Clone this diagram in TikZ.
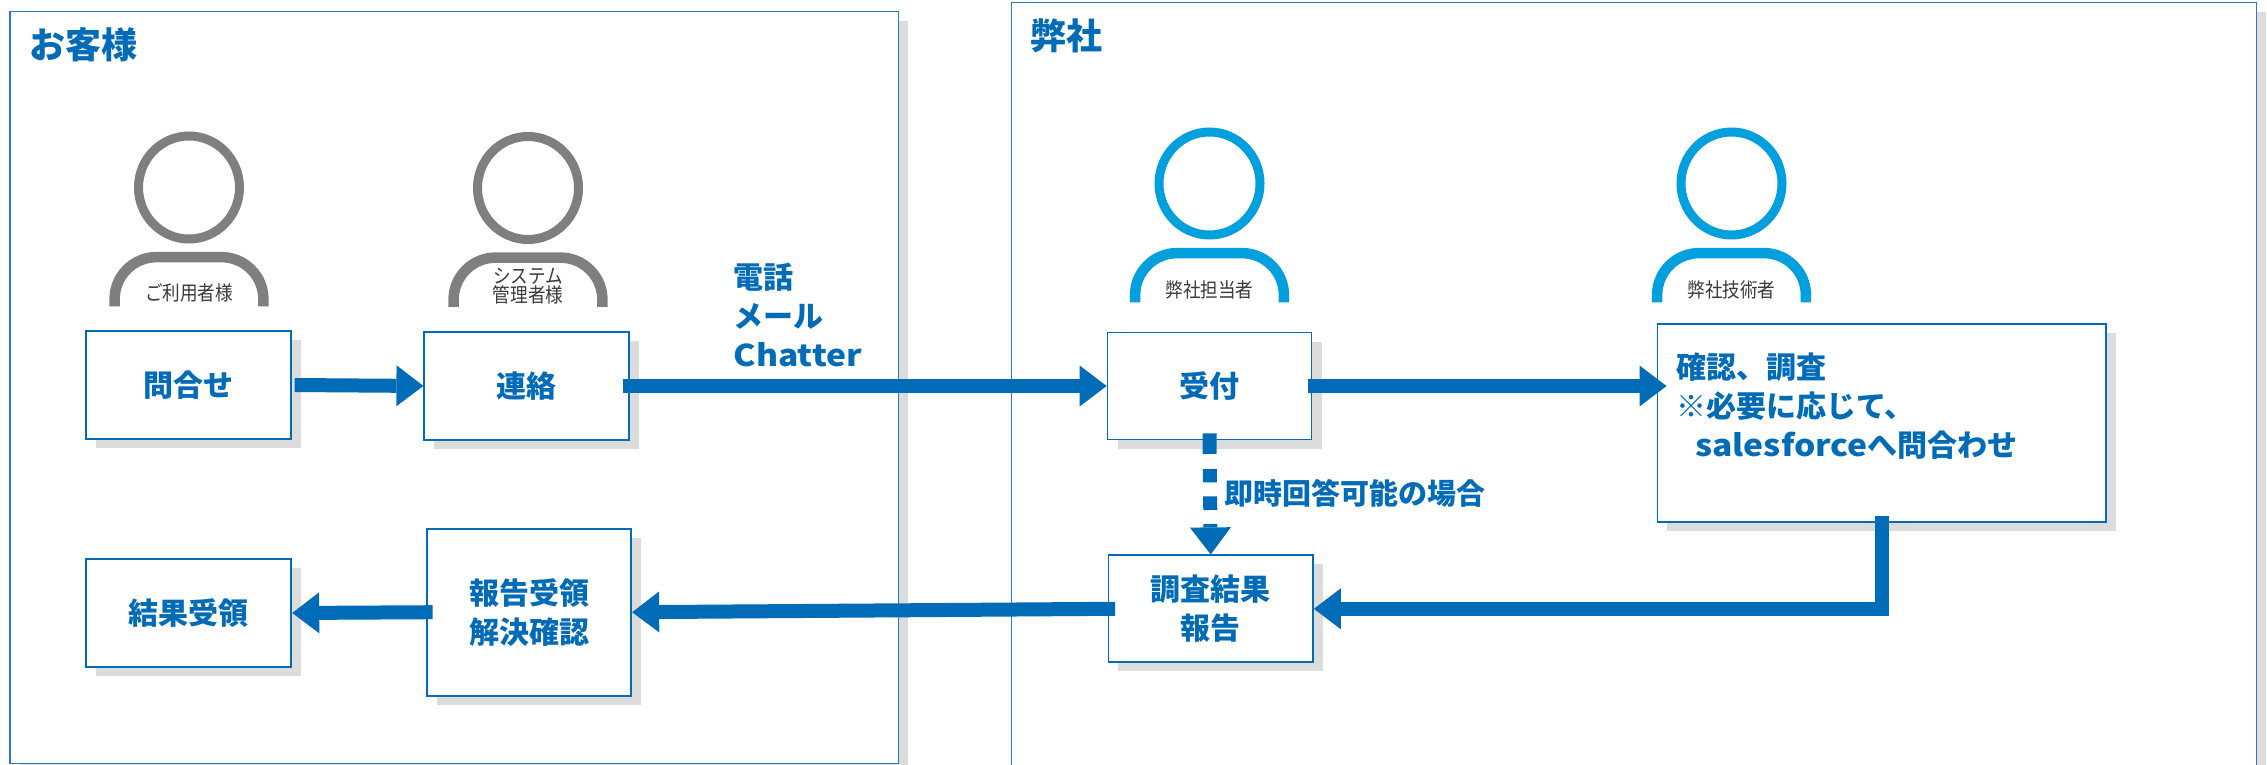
\documentclass[tikz,border=0pt]{standalone}
\usepackage{fontspec}
\setmainfont{Noto Sans CJK JP}
\newfontfamily\lblfont{Noto Sans CJK JP}[FakeStretch=0.88]
\newfontfamily\widelatin{Noto Sans CJK JP}[FakeStretch=1.12]
\usetikzlibrary{arrows.meta,shadows}
\definecolor{mainblue}{HTML}{006BB6}
\definecolor{framblue}{HTML}{2A7BC4}
\definecolor{iconcyan}{HTML}{00A0DE}
\definecolor{icongray}{HTML}{7F7F7F}
\definecolor{lblgray}{HTML}{3A3A3A}
\definecolor{shadowgray}{HTML}{DCDCDC}
\tikzset{
  boxshadow/.style={drop shadow={shadow xshift=10pt, shadow yshift=-9pt, fill=shadowgray, opacity=1}},
  stepbox/.style={draw=mainblue, line width=1.8pt, fill=white, inner sep=0pt,
    minimum width=205pt, minimum height=108pt, text=mainblue,
    font=\bfseries\fontsize{30}{39}\selectfont, align=center, boxshadow},
  framebox/.style={draw=framblue, line width=1.3pt, fill=white, inner sep=0pt,
    drop shadow={shadow xshift=9.5pt, shadow yshift=-9pt, fill=shadowgray, opacity=1}},
  titletext/.style={text=mainblue, font=\bfseries\fontsize{36}{40}\selectfont, inner sep=0pt},
  bluetext/.style={text=mainblue, font=\bfseries\fontsize{30}{39}\selectfont, inner sep=0pt, align=left},
  personlbl/.style={text=lblgray, font=\lblfont\fontsize{20}{19}\selectfont, inner sep=0pt, align=center},
  bigarrow/.style={draw=mainblue, line width=14pt, line join=miter,
    -{Triangle[length=27pt,width=41pt,line width=0pt]}},
  dotarrow/.style={bigarrow, dash pattern=on 20.6pt off 15pt on 13.4pt off 14pt on 13.6pt off 14pt on 30pt},
  pics/person/.style n args={3}{code={
    \draw[#1, line width=9pt] (0,0) ellipse [x radius=50.5, y radius=51.5];
    \draw[#1, line width=10.5pt, rounded corners=42pt]
      (-74.4,118.8) -- (-74.4,69.6) -- (74.4,69.6) -- (74.4,118.8);
    \node[personlbl] (-lbl) at (0,#3) {#2};
  }}
}
\begin{document}
\begin{tikzpicture}[x=1pt,y=-1pt]
\useasboundingbox (0,0) rectangle (2267,765);
\clip (0,0) rectangle (2267,765);
\fill[white] (0,0) rectangle (2267,765);

% frames
\node[framebox, minimum width=888.2pt, minimum height=751.6pt] (custframe) at (454.1,387.5) {};
\node[framebox, minimum width=1245.2pt, minimum height=797.3pt] (compframe) at (1633.8,401.35) {};
\node[titletext, anchor=west] (custtitle) at (29,45) {お客様};
\node[titletext, anchor=west] (comptitle) at (1030.5,36) {弊社};

% persons
\pic (p1) at (189,187.5) {person={icongray}{ご利用者様}{105.5}};
\pic (p2) at (528,188) {person={icongray}{システム\\管理者様}{98.5}};
\pic (p3) at (1209.5,183.5) {person={iconcyan}{弊社担当者}{106.5}};
\pic (p4) at (1731.5,183.5) {person={iconcyan}{弊社技術者}{106.5}};

% boxes
\node[stepbox] (b1) at (188.8,385) {問合せ};
\node[stepbox] (b2) at (526.8,386) {連絡};
\node[stepbox, minimum width=204pt, minimum height=107pt] (b3) at (1209.5,386) {受付};
\node[stepbox, minimum width=448.4pt, minimum height=198pt] (b4) at (1881.6,423.3) {};
\node[stepbox, minimum width=204.5pt, minimum height=107pt] (b5) at (1210.7,608.8) {調査結果\\報告};
\node[stepbox, minimum width=204.5pt, minimum height=167pt] (b6) at (529,612.2) {報告受領\\解決確認};
\node[stepbox] (b7) at (188.8,613) {結果受領};

\node[bluetext, anchor=north west] (b4text) at (1676,353) {確認、調査\\※必要に応じて、\\\hspace*{19pt}{\widelatin\bfseries salesforce}へ問合わせ};
\node[bluetext, anchor=north west] (channels) at (733.5,263) {電話\\メール\\{\widelatin\bfseries Chatter}};
\node[bluetext, anchor=west, font=\bfseries\fontsize{29}{36}\selectfont] (quick) at (1224,493) {即時回答可能の場合};

% connectors
\draw[bigarrow] ([xshift=2.5pt]b1.east) -- (b2.west);
\draw[bigarrow] ([xshift=-7pt]b2.east) -- (b3.west);
\draw[bigarrow] ([xshift=-4.5pt]b3.east) -- ([xshift=10pt]b4.west |- b3.east);
\draw[dotarrow] ([yshift=7pt]b3.south) -- (b5.north);
\draw[bigarrow] ([yshift=7pt]b4.south) |- (b5.east);
\draw[bigarrow] ([xshift=7.5pt]b5.west) -- (b6.east);
\draw[bigarrow] ([xshift=6.7pt]b6.west) -- (b7.east);
\end{tikzpicture}
\end{document}
